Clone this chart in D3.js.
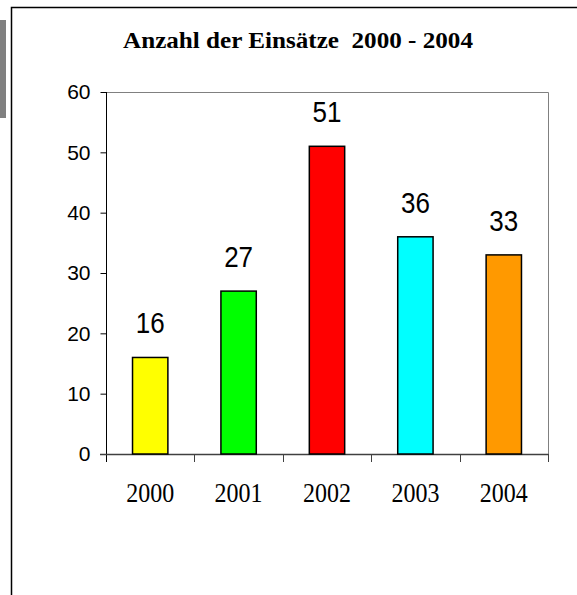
<!DOCTYPE html>
<html>
<head>
<meta charset="utf-8">
<script src="https://cdn.jsdelivr.net/npm/d3@7"></script>
<style>
  html, body { margin: 0; padding: 0; background: #fff; }
  svg { display: block; }
</style>
</head>
<body>
<div id="chart"></div>
<script>
// data -----------------------------------------------------------------
const years = ['2000', '2001', '2002', '2003', '2004'];
const einsaetze = [16, 27, 51, 36, 33];
const barColors = ['#ffff00', '#00ff00', '#ff0000', '#00ffff', '#ff9900'];
const yTicks = [0, 10, 20, 30, 40, 50, 60];
const title = 'Anzahl der Einsätze  2000 - 2004';

// svg -------------------------------------------------------------------
const width = 577, height = 595;
const svg = d3.select('#chart').append('svg')
  .attr('width', width)
  .attr('height', height);

// frame + gray stub on the left
svg.append('rect')
  .attr('x', 0).attr('y', 20)
  .attr('width', 6).attr('height', 98)
  .attr('fill', '#808080');
svg.append('path')
  .attr('d', 'M11.5,' + height + 'V7.5H' + width)
  .attr('fill', 'none')
  .attr('stroke', '#000')
  .attr('stroke-width', 1.5);

// title
svg.append('text')
  .attr('x', 298).attr('y', 48)
  .attr('text-anchor', 'middle')
  .style('white-space', 'pre')
  .attr('font-family', '"Liberation Serif", "Times New Roman", serif')
  .attr('font-weight', 'bold')
  .attr('font-size', '24px')
  .attr('textLength', 350)
  .attr('lengthAdjust', 'spacingAndGlyphs')
  .text(title);

// scales ----------------------------------------------------------------
const plot = {left: 106, right: 548, top: 92, bottom: 454};
const x = d3.scaleBand()
  .domain(years)
  .range([plot.left, plot.right])
  .paddingInner(0.6)
  .paddingOuter(0.3);
const y = d3.scaleLinear()
  .domain([0, 60])
  .range([plot.bottom, plot.top]);

// plot border (top / right)
svg.append('path')
  .attr('d', 'M' + plot.left + ',' + (plot.top + 0.5) + 'H' + (plot.right + 0.5) + 'V' + plot.bottom)
  .attr('fill', 'none')
  .attr('stroke', '#808080')
  .attr('stroke-width', 1);

// y axis
const yAxis = svg.append('g')
  .attr('transform', 'translate(' + (plot.left + 0.5) + ',0)')
  .call(d3.axisLeft(y).tickValues(yTicks).tickSize(6).tickPadding(10).tickFormat(d3.format('d')));
yAxis.select('.domain').remove();
yAxis.selectAll('.tick line').attr('stroke', '#000');
yAxis.selectAll('.tick text')
  .attr('font-family', '"Liberation Sans", Arial, sans-serif')
  .attr('font-size', '21px')
  .attr('fill', '#000');
svg.append('line')
  .attr('x1', plot.left + 0.5).attr('x2', plot.left + 0.5)
  .attr('y1', plot.top).attr('y2', plot.bottom + 8)
  .attr('stroke', '#000');

// x axis line + ticks between categories
const step = x.step();
const xTickPos = years.map(c => x(c) - step * x.paddingOuter()).concat([plot.right]);
svg.append('line')
  .attr('x1', plot.left - 6).attr('x2', plot.right + 0.5)
  .attr('y1', plot.bottom + 0.5).attr('y2', plot.bottom + 0.5)
  .attr('stroke', '#404040')
  .attr('stroke-width', 1.5);
svg.append('g').selectAll('line')
  .data(xTickPos.slice(1))
  .enter().append('line')
  .attr('x1', d => Math.round(d) + 0.5).attr('x2', d => Math.round(d) + 0.5)
  .attr('y1', plot.bottom).attr('y2', plot.bottom + 8)
  .attr('stroke', '#404040');

// bars
svg.append('g').selectAll('rect')
  .data(years)
  .enter().append('rect')
  .attr('x', d => x(d))
  .attr('y', (d, i) => y(einsaetze[i]))
  .attr('width', x.bandwidth())
  .attr('height', (d, i) => y(0) - y(einsaetze[i]))
  .attr('fill', (d, i) => barColors[i])
  .attr('stroke', '#000')
  .attr('stroke-width', 1.5);

// value labels (slightly tall glyphs like the original)
svg.append('g').selectAll('text')
  .data(years)
  .enter().append('text')
  .attr('transform', (d, i) => 'translate(' + (x(d) + x.bandwidth() / 2) + ',' + (y(einsaetze[i]) - 24) + ') scale(1,1.15)')
  .attr('text-anchor', 'middle')
  .attr('font-family', '"Liberation Sans", Arial, sans-serif')
  .attr('font-size', '26px')
  .attr('fill', '#000')
  .text((d, i) => einsaetze[i]);

// category labels
svg.append('g').selectAll('text')
  .data(years)
  .enter().append('text')
  .attr('transform', d => 'translate(' + (x(d) + x.bandwidth() / 2) + ',502) scale(1,1.15)')
  .attr('text-anchor', 'middle')
  .attr('font-family', '"Liberation Serif", "Times New Roman", serif')
  .attr('font-size', '24px')
  .attr('fill', '#000')
  .text(d => d);
</script>
</body>
</html>
